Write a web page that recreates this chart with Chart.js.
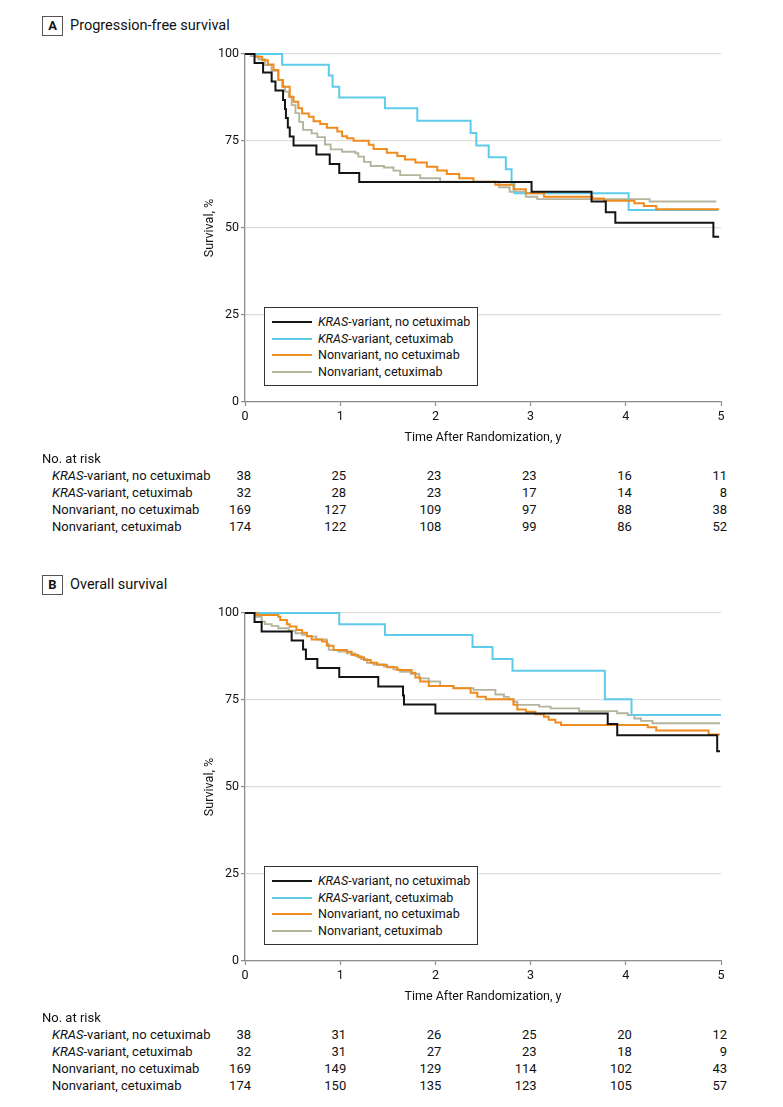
<!DOCTYPE html>
<html>
<head>
<meta charset="utf-8">
<script src="https://cdn.jsdelivr.net/npm/chart.js@4.4.1/dist/chart.umd.min.js"></script>
<style>
html,body{margin:0;padding:0;background:#fff;}
#page{position:relative;width:783px;height:1107px;overflow:hidden;font-family:Roboto,'Liberation Sans',sans-serif;color:#111;}
canvas.cv{position:absolute;left:0;}
.tbox{position:absolute;left:42px;width:19px;height:18px;border:1px solid #555;font-weight:bold;font-size:13px;line-height:18px;text-align:center;}
.ttl{position:absolute;left:70px;font-size:14.5px;line-height:20px;white-space:nowrap;}
.legend{position:absolute;left:264px;width:212px;height:77px;border:1px solid #333;background:#fff;}
.lrow{position:absolute;left:0;height:16px;width:212px;}
.lsw{position:absolute;left:7px;top:7px;width:40px;height:2px;}
.ltx{position:absolute;left:53px;top:0;font-size:12.5px;line-height:16px;white-space:nowrap;}
.rk{position:absolute;font-size:13px;line-height:16px;white-space:nowrap;}
.num{position:absolute;font-size:13px;line-height:16px;width:60px;text-align:right;}
</style>
</head>
<body>
<div id="page">
  <div class="tbox" style="top:16px;">A</div>
  <div class="ttl" style="top:16px;">Progression-free survival</div>
  <canvas id="cA" class="cv" width="783" height="452" style="top:0px;width:783px;height:452px;"></canvas>
  <div class="tbox" style="top:575px;">B</div>
  <div class="ttl" style="top:575px;">Overall survival</div>
  <canvas id="cB" class="cv" width="783" height="452" style="top:559px;width:783px;height:452px;"></canvas>
</div>
<script>
// ---------- data ----------
const yearTicks = [0, 1, 2, 3, 4, 5];
const survTicks = [0, 25, 50, 75, 100];
const groupNames = ['KRAS-variant, no cetuximab', 'KRAS-variant, cetuximab', 'Nonvariant, no cetuximab', 'Nonvariant, cetuximab'];
const groupColors = ['#141414', '#5ecbe9', '#f08b1d', '#b5b59d'];

// Progression-free survival (time in years, survival %)
const pfsKrasNoT = [0, 0.10, 0.19, 0.28, 0.32, 0.40, 0.42, 0.43, 0.45, 0.47, 0.51, 0.75, 0.89, 0.99, 1.20, 3.01, 3.64, 3.79, 3.89, 4.92, 4.98];
const pfsKrasNoS = [100, 97.4, 94.7, 92.1, 89.5, 86.8, 84.2, 81.6, 78.9, 76.3, 73.7, 71.1, 68.4, 65.8, 63.2, 60.4, 57.6, 54.5, 51.5, 47.5, 47.5];
const pfsKrasCetT = [0, 0.39, 0.88, 0.92, 0.99, 1.47, 1.81, 2.37, 2.43, 2.56, 2.74, 2.80, 2.83, 4.03, 4.97];
const pfsKrasCetS = [100, 96.9, 93.8, 90.6, 87.5, 84.4, 80.8, 77.3, 73.7, 70.3, 66.9, 63.0, 60.0, 55.2, 55.2];
const pfsNonNoT = [0, 0.105, 0.18, 0.24, 0.30, 0.35, 0.40, 0.47, 0.51, 0.56, 0.60, 0.67, 0.72, 0.79, 0.86, 0.97, 1.02, 1.07, 1.14, 1.30, 1.35, 1.49, 1.60, 1.68, 1.79, 1.91, 2.02, 2.12, 2.25, 2.40, 2.63, 2.82, 2.95, 3.14, 3.65, 3.77, 4.09, 4.19, 4.32, 4.98];
const pfsNonNoS = [100, 99.2, 98.2, 97.0, 95.4, 92.5, 90.6, 87.7, 86.3, 84.4, 82.9, 82.0, 80.7, 79.9, 78.8, 77.7, 76.4, 75.8, 75.1, 73.9, 72.7, 71.6, 70.7, 69.7, 68.8, 67.6, 66.5, 65.5, 64.3, 63.3, 62.4, 61.1, 60.0, 59.0, 58.5, 57.8, 57.1, 56.3, 55.4, 55.4];
const pfsNonCetT = [0, 0.06, 0.14, 0.21, 0.28, 0.35, 0.39, 0.42, 0.46, 0.49, 0.53, 0.57, 0.61, 0.70, 0.76, 0.84, 0.90, 1.02, 1.16, 1.19, 1.25, 1.32, 1.46, 1.56, 1.63, 1.84, 2.05, 2.67, 2.78, 2.95, 3.07, 4.25, 4.95];
const pfsNonCetS = [100, 99.4, 98.5, 96.8, 95.2, 92.5, 90.6, 89.2, 87.7, 85.3, 83.0, 80.5, 78.2, 77.2, 76.1, 74.0, 72.6, 71.9, 71.5, 70.5, 69.0, 67.8, 67.4, 66.5, 65.2, 64.3, 63.3, 61.7, 60.4, 59.0, 58.3, 57.6, 57.6];

// Overall survival
const osKrasNoT = [0, 0.10, 0.175, 0.49, 0.61, 0.64, 0.76, 0.99, 1.40, 1.66, 1.67, 2.00, 3.81, 3.91, 4.96, 4.99];
const osKrasNoS = [100, 97.4, 94.7, 92.1, 89.5, 86.8, 84.2, 81.6, 78.9, 76.3, 73.7, 71.1, 68.1, 64.9, 60.3, 60.3];
const osKrasCetT = [0, 0.99, 1.47, 2.39, 2.60, 2.81, 3.78, 4.06, 5.0];
const osKrasCetS = [100, 96.8, 93.7, 90.2, 86.8, 83.4, 75.2, 70.7, 70.7];
const osNonNoT = [0, 0.12, 0.35, 0.37, 0.44, 0.47, 0.54, 0.60, 0.65, 0.70, 0.81, 0.86, 0.93, 1.07, 1.12, 1.19, 1.25, 1.32, 1.39, 1.49, 1.60, 1.75, 1.79, 1.84, 1.93, 2.19, 2.37, 2.44, 2.53, 2.82, 2.86, 2.95, 3.05, 3.14, 3.19, 3.26, 3.32, 4.23, 4.32, 4.87, 4.99];
const osNonNoS = [100, 99.4, 98.9, 98.0, 96.8, 96.1, 95.1, 94.3, 93.4, 92.4, 91.8, 90.6, 89.4, 88.9, 87.9, 87.3, 86.5, 85.7, 85.1, 84.4, 83.6, 82.8, 81.5, 80.3, 79.0, 78.4, 77.1, 75.9, 75.2, 73.6, 72.3, 71.6, 70.9, 70.2, 69.3, 68.5, 67.8, 67.2, 66.2, 65.1, 65.1];
const osNonCetT = [0, 0.12, 0.175, 0.21, 0.28, 0.35, 0.46, 0.53, 0.60, 0.65, 0.75, 0.86, 0.88, 0.98, 1.07, 1.16, 1.22, 1.28, 1.35, 1.46, 1.56, 1.63, 1.74, 1.83, 1.93, 2.05, 2.19, 2.40, 2.63, 2.72, 2.77, 2.82, 2.86, 3.09, 3.21, 3.51, 3.91, 4.02, 4.09, 4.16, 4.28, 4.99];
const osNonCetS = [100, 98.9, 97.5, 96.8, 96.3, 95.6, 94.9, 94.2, 93.7, 93.2, 92.4, 91.1, 89.4, 88.9, 88.4, 87.6, 86.8, 85.7, 85.2, 84.6, 83.8, 83.1, 82.5, 81.2, 80.3, 79.0, 78.4, 77.9, 76.6, 75.9, 75.2, 74.5, 73.6, 73.1, 72.6, 71.8, 71.2, 70.7, 69.7, 69.0, 68.3, 68.3];

// Numbers at risk
const pfsRiskKrasNo = [38, 25, 23, 23, 16, 11];
const pfsRiskKrasCet = [32, 28, 23, 17, 14, 8];
const pfsRiskNonNo = [169, 127, 109, 97, 88, 38];
const pfsRiskNonCet = [174, 122, 108, 99, 86, 52];
const osRiskKrasNo = [38, 31, 26, 25, 20, 12];
const osRiskKrasCet = [32, 31, 27, 23, 18, 9];
const osRiskNonNo = [169, 149, 129, 114, 102, 43];
const osRiskNonCet = [174, 150, 135, 123, 105, 57];

// ---------- drawing ----------
const FONT = 'Roboto, "Liberation Sans", sans-serif';
const AXIS = '#8c8c8c';
const TXT = '#111';

function pts(t, s) { return t.map((x, i) => ({ x: x, y: s[i] })); }

function ds(idx, t, s) {
  return {
    label: groupNames[idx], data: pts(t, s), borderColor: groupColors[idx],
    borderWidth: idx === 3 ? 1.9 : 2, stepped: 'before', pointRadius: 0, fill: false, clip: 6
  };
}

function makeChart(id, series) {
  // draw order: first dataset on top -> black, orange, cyan, gray
  const order = [0, 2, 1, 3];
  const datasets = order.map(i => ds(i, series[i][0], series[i][1]));
  return new Chart(document.getElementById(id), {
    type: 'line',
    data: { datasets: datasets },
    options: {
      responsive: false, animation: false, devicePixelRatio: 1,
      layout: { padding: { left: 198, right: 62, top: 54, bottom: 3 } },
      plugins: { legend: { display: false }, tooltip: { enabled: false } },
      elements: { line: { tension: 0, borderCapStyle: 'butt', borderJoinStyle: 'miter' } },
      scales: {
        x: {
          type: 'linear', min: 0, max: 5,
          afterFit: s => { s.height = 47; },
          afterBuildTicks: s => { s.ticks = yearTicks.map(v => ({ value: v })); },
          grid: { drawOnChartArea: false, drawTicks: true, tickLength: 4, tickColor: AXIS, tickWidth: 1.2 },
          border: { display: true, color: AXIS, width: 1.3 },
          ticks: { padding: 3, color: TXT, font: { family: FONT, size: 12.5 }, maxRotation: 0, autoSkip: false },
          title: { display: true, text: 'Time After Randomization, y', color: TXT, font: { family: FONT, size: 12.5 }, padding: { top: 4, bottom: 4 } }
        },
        y: {
          min: 0, max: 100,
          afterFit: s => { s.width = 47; },
          afterBuildTicks: s => { s.ticks = survTicks.map(v => ({ value: v })); },
          grid: { color: '#dddddd', lineWidth: 1.2, drawTicks: true, tickLength: 4, tickColor: AXIS, tickWidth: 1.2 },
          border: { display: true, color: AXIS, width: 1.3 },
          ticks: { padding: 2, color: TXT, font: { family: FONT, size: 12.5 } },
          title: { display: true, text: 'Survival, %', color: TXT, font: { family: FONT, size: 12.5 }, padding: { top: 4, bottom: 4 } }
        }
      }
    }
  });
}

function labelHtml(name) {
  return name.startsWith('KRAS') ? '<i>KRAS</i>' + name.slice(4) : name;
}

function addLegend(top) {
  const page = document.getElementById('page');
  const box = document.createElement('div');
  box.className = 'legend';
  box.style.top = top + 'px';
  groupNames.forEach((n, i) => {
    const row = document.createElement('div');
    row.className = 'lrow';
    row.style.top = (6 + i * 16.5) + 'px';
    row.innerHTML = '<div class="lsw" style="background:' + groupColors[i] + '"></div><div class="ltx">' + labelHtml(n) + '</div>';
    box.appendChild(row);
  });
  page.appendChild(box);
}

function addRiskTable(chart, top, rows) {
  const page = document.getElementById('page');
  const h = document.createElement('div');
  h.className = 'rk'; h.style.left = '42px'; h.style.top = (top - 8) + 'px';
  h.textContent = 'No. at risk';
  page.appendChild(h);
  rows.forEach((vals, r) => {
    const y = top + 17 * (r + 1) - 8;
    const lab = document.createElement('div');
    lab.className = 'rk'; lab.style.left = '52px'; lab.style.top = y + 'px';
    lab.innerHTML = labelHtml(groupNames[r]);
    page.appendChild(lab);
    vals.forEach((v, c) => {
      const px = chart.scales.x.getPixelForValue(yearTicks[c]) + 6;
      const d = document.createElement('div');
      d.className = 'num'; d.style.left = (px - 60) + 'px'; d.style.top = y + 'px';
      d.textContent = v;
      page.appendChild(d);
    });
  });
}

const chartA = makeChart('cA', [[pfsKrasNoT, pfsKrasNoS], [pfsKrasCetT, pfsKrasCetS], [pfsNonNoT, pfsNonNoS], [pfsNonCetT, pfsNonCetS]]);
const chartB = makeChart('cB', [[osKrasNoT, osKrasNoS], [osKrasCetT, osKrasCetS], [osNonNoT, osNonNoS], [osNonCetT, osNonCetS]]);
addLegend(307);
addLegend(866);
addRiskTable(chartA, 459, [pfsRiskKrasNo, pfsRiskKrasCet, pfsRiskNonNo, pfsRiskNonCet]);
addRiskTable(chartB, 1018, [osRiskKrasNo, osRiskKrasCet, osRiskNonNo, osRiskNonCet]);
</script>
</body>
</html>
